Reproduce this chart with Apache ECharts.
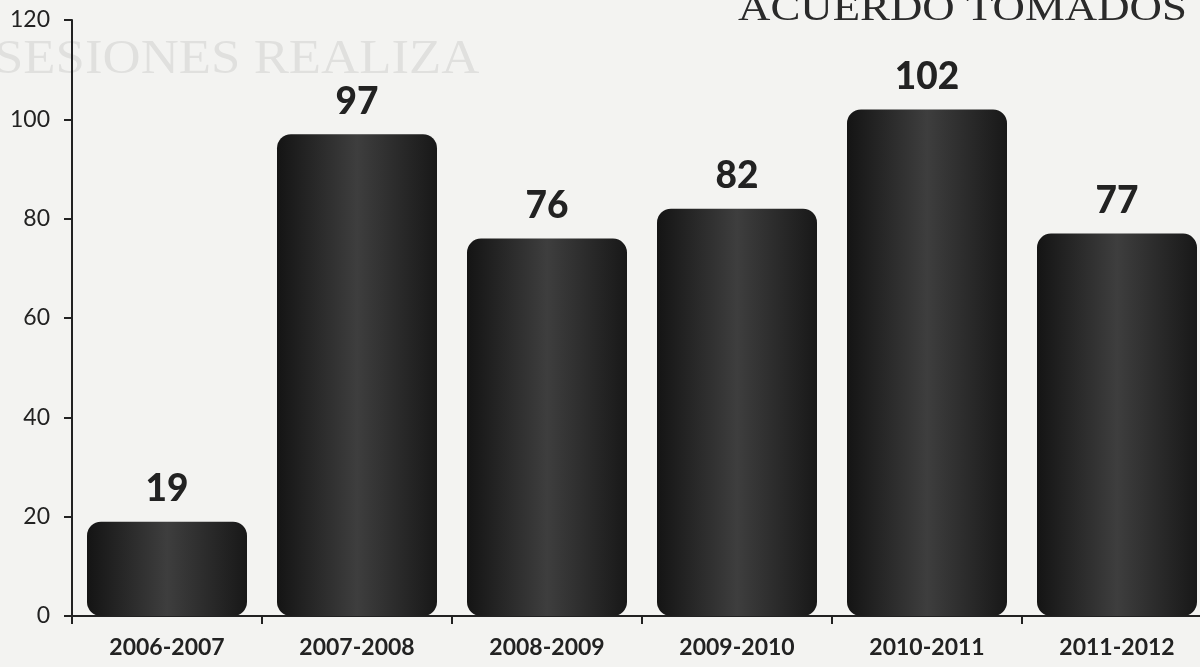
<!DOCTYPE html>
<html>
<head>
<meta charset="utf-8">
<script src="https://cdn.jsdelivr.net/npm/echarts@6/dist/echarts.min.js"></script>
<style>
  html, body { margin: 0; padding: 0; background: #f3f3f1; overflow: hidden; }
  #chart { width: 1212px; height: 667px; }
</style>
</head>
<body>
<div id="chart"></div>
<script>
// periods and agreements taken
const periods = ["2006-2007", "2007-2008", "2008-2009", "2009-2010", "2010-2011", "2011-2012"];
const acuerdos = [19, 97, 76, 82, 102, 77];
const yTicks = [0, 20, 40, 60, 80, 100, 120];

const chart = echarts.init(document.getElementById("chart"));

const barColor = new echarts.graphic.LinearGradient(0, 0, 1, 0, [
  { offset: 0, color: "#141414" },
  { offset: 0.5, color: "#3e3e3e" },
  { offset: 1, color: "#181818" },
]);

chart.setOption({
  backgroundColor: "#f3f3f1",
  animation: false,
  graphic: [
    {
      type: "text",
      x: -6,
      y: 36,
      scaleX: 1.1,
      style: {
        text: "SESIONES REALIZA",
        font: "48px 'Liberation Serif'",
        fill: "rgba(0,0,0,0.08)",
      },
    },
    {
      type: "text",
      x: 738,
      y: -9,
      scaleX: 1.18,
      style: {
        text: "ACUERDO TOMADOS",
        font: "38px 'Liberation Serif'",
        fill: "#2a2a2a",
      },
    },
  ],
  grid: {
    left: 72,
    top: 20,
    bottom: 51,
    right: 0,
    containLabel: false,
  },
  xAxis: {
    type: "category",
    data: periods,
    axisLine: { lineStyle: { color: "#222", width: 2 } },
    axisTick: { show: true, length: 8, lineStyle: { color: "#222", width: 2 } },
    axisLabel: {
      color: "#222",
      fontFamily: "Lato",
      fontWeight: "bold",
      fontSize: 23,
      margin: 20,
    },
  },
  yAxis: {
    type: "value",
    min: yTicks[0],
    max: yTicks[yTicks.length - 1],
    interval: 20,
    axisLine: { show: true, lineStyle: { color: "#222", width: 2 } },
    axisTick: { show: true, length: 8, lineStyle: { color: "#222", width: 2 } },
    splitLine: { show: false },
    axisLabel: {
      color: "#222",
      fontFamily: "Lato",
      fontSize: 23,
      margin: 22,
    },
  },
  series: [
    {
      type: "bar",
      data: acuerdos,
      barWidth: 160,
      itemStyle: {
        color: barColor,
        borderRadius: 14,
      },
      label: {
        show: true,
        position: "top",
        distance: 14,
        color: "#222",
        fontFamily: "Lato",
        fontWeight: "900",
        fontSize: 37,
      },
    },
  ],
});
</script>
</body>
</html>
